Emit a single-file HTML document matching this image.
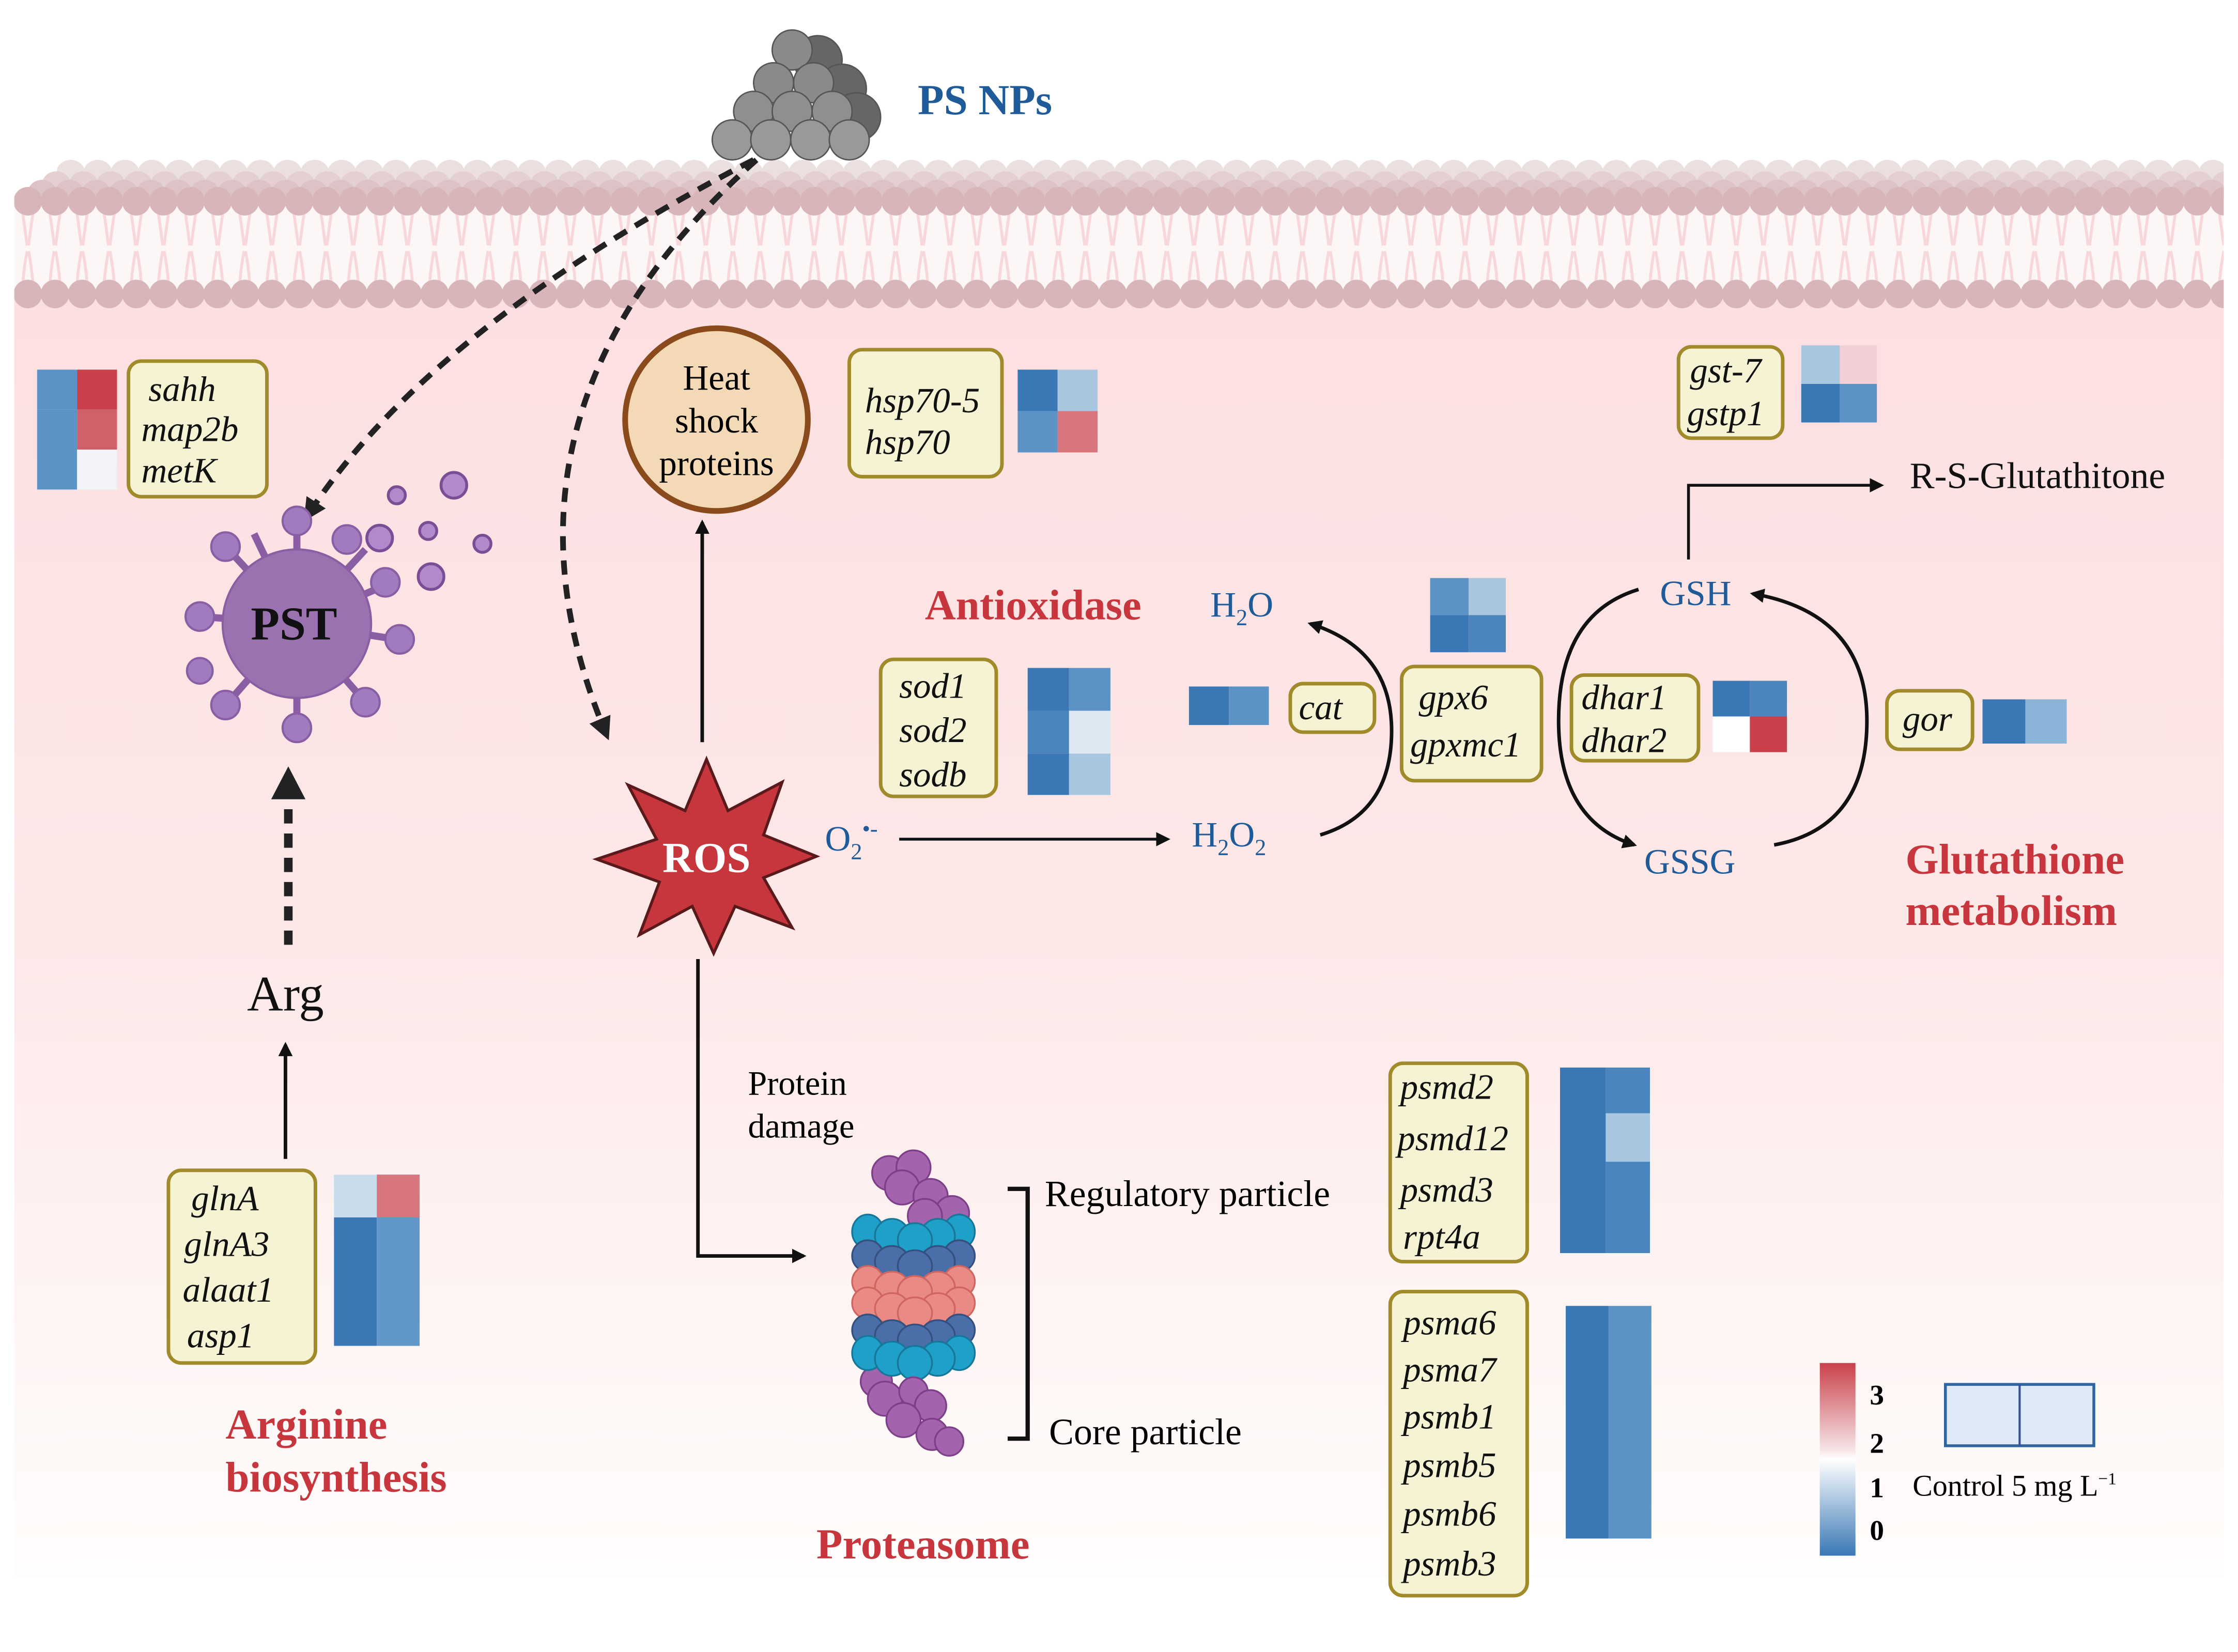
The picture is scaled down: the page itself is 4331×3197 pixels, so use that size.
<!DOCTYPE html>
<html><head><meta charset="utf-8"><style>
html,body{margin:0;padding:0;background:#fff}
svg{display:block}
text{font-family:"Liberation Serif",serif}
.g{font-style:italic;font-size:25px;fill:#111}
.red{fill:#c8363d;font-weight:bold;font-size:30px}
.blu{fill:#1f5a99;font-size:25px}
.box{fill:#f6f3d4;stroke:#a08a2a;stroke-width:2.5}
</style></head><body>
<svg width="4331" height="3197" viewBox="0 0 1568 1157.5" preserveAspectRatio="none" xmlns="http://www.w3.org/2000/svg">
<defs>
<linearGradient id="bg" x1="0" y1="0" x2="0" y2="1">
<stop offset="0" stop-color="#fcdfe1"/><stop offset="0.5" stop-color="#fde8e8"/><stop offset="1" stop-color="#fffdfc"/>
</linearGradient>
<linearGradient id="cb" x1="0" y1="0" x2="0" y2="1">
<stop offset="0" stop-color="#c9404a"/><stop offset="0.45" stop-color="#f6e4e6"/><stop offset="0.5" stop-color="#ffffff"/><stop offset="1" stop-color="#3a78b5"/>
</linearGradient>
<pattern id="h1" x="40" y="112" width="19" height="18" patternUnits="userSpaceOnUse"><ellipse cx="9.5" cy="9" rx="10" ry="9" fill="#ecdfe0"/></pattern>
<pattern id="h2" x="30" y="120" width="19" height="18" patternUnits="userSpaceOnUse"><ellipse cx="9.5" cy="9" rx="10" ry="9" fill="#e4cfd1"/></pattern>
<pattern id="h3" x="20" y="126" width="19" height="18" patternUnits="userSpaceOnUse"><ellipse cx="9.5" cy="9" rx="10" ry="9" fill="#ddc3c6"/></pattern>
<pattern id="h4" x="10" y="131" width="19" height="20" patternUnits="userSpaceOnUse"><circle cx="9.5" cy="10" r="10" fill="#d7b5b8"/></pattern>
<pattern id="h5" x="10" y="196" width="19" height="20" patternUnits="userSpaceOnUse"><circle cx="9.5" cy="10" r="10" fill="#d7b5b8"/></pattern>
<pattern id="tails" x="10" y="150" width="19" height="48" patternUnits="userSpaceOnUse">
<path d="M6 0 Q8 14 9 22 M13 0 Q11 14 10 22 M9 26 Q7 36 6 48 M10 26 Q12 36 13 48" stroke="#f7d7d9" stroke-width="2" fill="none"/>
</pattern>
<marker id="ah" markerWidth="10" markerHeight="10" refX="8" refY="5" orient="auto" markerUnits="userSpaceOnUse"><path d="M0 0 L10 5 L0 10 Z" fill="#111"/></marker>
<marker id="ahb" markerWidth="16" markerHeight="16" refX="12" refY="8" orient="auto" markerUnits="userSpaceOnUse"><path d="M0 0 L16 8 L0 16 Z" fill="#222"/></marker>
</defs>
<rect x="0" y="0" width="1568" height="1158" fill="#fff"/>
<rect x="10" y="205" width="1548" height="900" fill="url(#bg)"/>
<!-- membrane -->
<rect x="10" y="145" width="1548" height="60" fill="#fcf6f6"/>
<rect x="10" y="150" width="1548" height="48" fill="url(#tails)"/>
<rect x="40" y="112" width="1518" height="18" fill="url(#h1)"/>
<rect x="30" y="120" width="1528" height="18" fill="url(#h2)"/>
<rect x="20" y="126" width="1538" height="18" fill="url(#h3)"/>
<rect x="10" y="131" width="1548" height="20" fill="url(#h4)"/>
<rect x="10" y="196" width="1548" height="20" fill="url(#h5)"/>
<!-- PS NPs -->
<g stroke="#555" stroke-width="1">
<circle cx="573" cy="42" r="17" fill="#666"/><circle cx="590" cy="62" r="17" fill="#666"/><circle cx="600" cy="82" r="17" fill="#666"/>
<circle cx="555" cy="35" r="14" fill="#8a8a8a"/>
<circle cx="542" cy="58" r="14" fill="#8a8a8a"/><circle cx="570" cy="58" r="14" fill="#8a8a8a"/>
<circle cx="528" cy="78" r="14" fill="#8f8f8f"/><circle cx="555" cy="78" r="14" fill="#8f8f8f"/><circle cx="583" cy="78" r="14" fill="#8f8f8f"/>
<circle cx="513" cy="98" r="14" fill="#999"/><circle cx="540" cy="98" r="14" fill="#999"/><circle cx="568" cy="98" r="14" fill="#999"/><circle cx="595" cy="98" r="14" fill="#999"/>
</g>
<text x="643" y="80" style="font-size:30px;font-weight:bold;fill:#1f5a99">PS NPs</text>
<!-- dashed arrows -->
<path d="M528 112 Q300 230 215 362" stroke="#222" stroke-width="4" stroke-dasharray="10,7" fill="none" marker-end="url(#ahb)"/>
<path d="M530 112 Q330 290 425 515" stroke="#222" stroke-width="4" stroke-dasharray="10,7" fill="none" marker-end="url(#ahb)"/>
<!-- sahh -->
<rect x="26" y="259" width="28" height="28" fill="#5b93c6"/><rect x="54" y="259" width="28" height="28" fill="#c9404a"/>
<rect x="26" y="287" width="28" height="28" fill="#5b93c6"/><rect x="54" y="287" width="28" height="28" fill="#d0616b"/>
<rect x="26" y="315" width="28" height="28" fill="#5b93c6"/><rect x="54" y="315" width="28" height="28" fill="#f1f3f6"/>
<rect class="box" x="90" y="253" width="97" height="95" rx="9"/>
<text class="g" x="104" y="281">sahh</text><text class="g" x="99" y="309">map2b</text><text class="g" x="99" y="338">metK</text>
<!-- PST virus -->
<g stroke="#8a5ea3" stroke-width="5" fill="#a07bbd">
<line x1="208" y1="437" x2="208" y2="370"/><line x1="208" y1="437" x2="208" y2="510"/>
<line x1="208" y1="437" x2="140" y2="432"/><line x1="208" y1="437" x2="278" y2="448"/>
<line x1="208" y1="437" x2="160" y2="385"/><line x1="208" y1="437" x2="256" y2="385"/>
<line x1="208" y1="437" x2="160" y2="492"/><line x1="208" y1="437" x2="256" y2="492"/>
<line x1="208" y1="437" x2="178" y2="374"/><line x1="208" y1="437" x2="270" y2="410"/>
</g>
<g fill="#a07bbd" stroke="#8a5ea3" stroke-width="1.5">
<circle cx="208" cy="365" r="10"/><circle cx="208" cy="510" r="10"/><circle cx="140" cy="432" r="10"/><circle cx="280" cy="448" r="10"/>
<circle cx="158" cy="383" r="10"/><circle cx="243" cy="378" r="10"/><circle cx="158" cy="494" r="10"/><circle cx="256" cy="492" r="10"/><circle cx="270" cy="408" r="10"/><circle cx="140" cy="470" r="9"/>
<circle cx="208" cy="437" r="52" fill="#9b72b0"/>
</g>
<text x="206" y="448" text-anchor="middle" style="font-size:33px;font-weight:bold;fill:#111">PST</text>
<g fill="#b08acb" stroke="#7a4d95" stroke-width="2">
<circle cx="318" cy="340" r="9"/><circle cx="278" cy="347" r="6"/><circle cx="266" cy="377" r="9"/><circle cx="300" cy="372" r="6"/><circle cx="338" cy="381" r="6"/><circle cx="302" cy="404" r="9"/>
</g>
<!-- Arg -->
<line x1="202" y1="662" x2="202" y2="560" stroke="#222" stroke-width="6" stroke-dasharray="10,7"/>
<path d="M190 560 L202 537 L214 560 Z" fill="#222"/>
<text x="200" y="708" text-anchor="middle" style="font-size:35px;fill:#111">Arg</text>
<line x1="200" y1="812" x2="200" y2="732" stroke="#111" stroke-width="2.5" marker-end="url(#ah)"/>
<rect class="box" x="118" y="820" width="103" height="135" rx="9"/>
<text class="g" x="134" y="848">glnA</text><text class="g" x="129" y="880">glnA3</text><text class="g" x="128" y="912">alaat1</text><text class="g" x="131" y="944">asp1</text>
<rect x="234" y="823" width="30" height="30" fill="#c8dcec"/><rect x="264" y="823" width="30" height="30" fill="#d9757c"/>
<rect x="234" y="853" width="30" height="90" fill="#3a78b5"/><rect x="264" y="853" width="30" height="90" fill="#6197c8"/>
<text class="red" x="158" y="1008">Arginine</text><text class="red" x="158" y="1045">biosynthesis</text>
<!-- Heat shock -->
<circle cx="502" cy="294" r="64" fill="#f3d9b5" stroke="#8b4a1c" stroke-width="4"/>
<text x="502" y="273" text-anchor="middle" style="font-size:25px">Heat</text>
<text x="502" y="303" text-anchor="middle" style="font-size:25px">shock</text>
<text x="502" y="333" text-anchor="middle" style="font-size:25px">proteins</text>
<rect class="box" x="595" y="245" width="107" height="89" rx="9"/>
<text class="g" x="606" y="289">hsp70-5</text><text class="g" x="606" y="318">hsp70</text>
<rect x="713" y="259" width="28" height="29" fill="#3a78b5"/><rect x="741" y="259" width="28" height="29" fill="#a8c6e0"/>
<rect x="713" y="288" width="28" height="29" fill="#5b93c6"/><rect x="741" y="288" width="28" height="29" fill="#d9757c"/>
<line x1="492" y1="520" x2="492" y2="366" stroke="#111" stroke-width="2.5" marker-end="url(#ah)"/>
<!-- ROS -->
<path d="M495 532 L510 568 L548 548 L535 585 L572 600 L535 615 L555 650 L515 635 L500 668 L485 635 L448 655 L462 618 L418 602 L460 588 L440 550 L480 568 Z" fill="#c8363d" stroke="#5a1a1c" stroke-width="2"/>
<text x="495" y="611" text-anchor="middle" style="font-size:30px;font-weight:bold;fill:#fff">ROS</text>
<!-- Antioxidase -->
<text class="red" x="648" y="434">Antioxidase</text>
<rect class="box" x="617" y="462" width="81" height="96" rx="9"/>
<text class="g" x="630" y="489">sod1</text><text class="g" x="630" y="520">sod2</text><text class="g" x="630" y="551">sodb</text>
<rect x="720" y="468" width="29" height="30" fill="#3a78b5"/><rect x="749" y="468" width="29" height="30" fill="#5b93c6"/>
<rect x="720" y="498" width="29" height="30" fill="#4a85be"/><rect x="749" y="498" width="29" height="30" fill="#dde8f2"/>
<rect x="720" y="528" width="29" height="29" fill="#3a78b5"/><rect x="749" y="528" width="29" height="29" fill="#a8c6e0"/>
<rect x="833" y="481" width="28" height="27" fill="#3a78b5"/><rect x="861" y="481" width="28" height="27" fill="#5b93c6"/>
<rect class="box" x="904" y="479" width="59" height="34" rx="9"/>
<text class="g" x="910" y="504">cat</text>
<text class="blu" x="578" y="596">O<tspan font-size="16" dy="6">2</tspan><tspan font-size="16" dy="-16">•-</tspan></text>
<line x1="630" y1="588" x2="818" y2="588" stroke="#111" stroke-width="2" marker-end="url(#ah)"/>
<text class="blu" x="835" y="593">H<tspan font-size="16" dy="6">2</tspan><tspan dy="-6">O</tspan><tspan font-size="16" dy="6">2</tspan></text>
<text class="blu" x="848" y="432">H<tspan font-size="16" dy="6">2</tspan><tspan dy="-6">O</tspan></text>
<path d="M925 585 Q975 570 975 512 Q975 455 918 437" stroke="#111" stroke-width="2.5" fill="none" marker-end="url(#ah)"/>
<!-- gpx -->
<rect x="1002" y="405" width="27" height="26" fill="#5b93c6"/><rect x="1029" y="405" width="26" height="26" fill="#a8c6e0"/>
<rect x="1002" y="431" width="27" height="26" fill="#3a78b5"/><rect x="1029" y="431" width="26" height="26" fill="#4a85be"/>
<rect class="box" x="982" y="467" width="98" height="80" rx="9"/>
<text class="g" x="994" y="497">gpx6</text><text class="g" x="988" y="530">gpxmc1</text>
<!-- GSH cycle -->
<text class="blu" x="1163" y="424">GSH</text>
<text class="blu" x="1152" y="612">GSSG</text>
<path d="M1148 413 Q1092 430 1092 505 Q1092 575 1145 592" stroke="#111" stroke-width="2.5" fill="none" marker-end="url(#ah)"/>
<path d="M1243 592 Q1308 580 1308 505 Q1308 430 1228 416" stroke="#111" stroke-width="2.5" fill="none" marker-end="url(#ah)"/>
<rect class="box" x="1101" y="473" width="89" height="60" rx="9"/>
<text class="g" x="1108" y="497">dhar1</text><text class="g" x="1108" y="527">dhar2</text>
<rect x="1200" y="477" width="26" height="25" fill="#3a78b5"/><rect x="1226" y="477" width="26" height="25" fill="#4a85be"/>
<rect x="1200" y="502" width="26" height="25" fill="#ffffff"/><rect x="1226" y="502" width="26" height="25" fill="#c9404a"/>
<rect class="box" x="1322" y="484" width="60" height="41" rx="9"/>
<text class="g" x="1333" y="512">gor</text>
<rect x="1389" y="490" width="30" height="31" fill="#3a78b5"/><rect x="1419" y="490" width="29" height="31" fill="#8cb3d8"/>
<rect class="box" x="1176" y="243" width="73" height="64" rx="9"/>
<text class="g" x="1184" y="268">gst-7</text><text class="g" x="1182" y="298">gstp1</text>
<rect x="1262" y="242" width="27" height="27" fill="#a8c6e0"/><rect x="1289" y="242" width="26" height="27" fill="#f0d0d4"/>
<rect x="1262" y="269" width="27" height="27" fill="#3a78b5"/><rect x="1289" y="269" width="26" height="27" fill="#5b93c6"/>
<path d="M1183 392 L1183 340 L1318 340" stroke="#111" stroke-width="2" fill="none" marker-end="url(#ah)"/>
<text x="1338" y="342" style="font-size:26px;fill:#111">R-S-Glutathitone</text>
<text class="red" x="1335" y="612">Glutathione</text><text class="red" x="1335" y="648">metabolism</text>
<!-- Proteasome path -->
<path d="M489 672 L489 880 L563 880" stroke="#111" stroke-width="2.5" fill="none" marker-end="url(#ah)"/>
<text x="524" y="767" style="font-size:24px">Protein</text><text x="524" y="797" style="font-size:24px">damage</text>
<g stroke-width="1.2">
<g fill="#a464ad" stroke="#7d3f88">
<circle cx="623" cy="822" r="12"/><circle cx="640" cy="818" r="12"/><circle cx="632" cy="832" r="12"/><circle cx="652" cy="838" r="12"/><circle cx="667" cy="850" r="12"/><circle cx="648" cy="852" r="12"/>
</g>
<g fill="#1fa0c8" stroke="#16779a"><ellipse cx="608" cy="863" rx="11" ry="12"/><ellipse cx="672" cy="863" rx="11" ry="12"/><ellipse cx="625" cy="866" rx="12" ry="12"/><ellipse cx="657" cy="866" rx="12" ry="12"/><ellipse cx="641" cy="869" rx="12" ry="12"/></g>
<g fill="#4a6ea8" stroke="#33507f"><ellipse cx="608" cy="880" rx="11" ry="11"/><ellipse cx="672" cy="880" rx="11" ry="11"/><ellipse cx="625" cy="884" rx="12" ry="11"/><ellipse cx="657" cy="884" rx="12" ry="11"/><ellipse cx="641" cy="887" rx="12" ry="11"/></g>
<g fill="#ea8a84" stroke="#d0655f"><ellipse cx="608" cy="898" rx="11" ry="11"/><ellipse cx="672" cy="898" rx="11" ry="11"/><ellipse cx="625" cy="902" rx="12" ry="11"/><ellipse cx="657" cy="902" rx="12" ry="11"/><ellipse cx="641" cy="905" rx="12" ry="11"/></g>
<g fill="#ea8a84" stroke="#d0655f"><ellipse cx="608" cy="913" rx="11" ry="11"/><ellipse cx="672" cy="913" rx="11" ry="11"/><ellipse cx="625" cy="917" rx="12" ry="11"/><ellipse cx="657" cy="917" rx="12" ry="11"/><ellipse cx="641" cy="920" rx="12" ry="11"/></g>
<g fill="#4a6ea8" stroke="#33507f"><ellipse cx="608" cy="932" rx="11" ry="11"/><ellipse cx="672" cy="932" rx="11" ry="11"/><ellipse cx="625" cy="936" rx="12" ry="11"/><ellipse cx="657" cy="936" rx="12" ry="11"/><ellipse cx="641" cy="939" rx="12" ry="11"/></g>
<g fill="#a464ad" stroke="#7d3f88"><circle cx="614" cy="968" r="11"/></g>
<g fill="#1fa0c8" stroke="#16779a"><ellipse cx="608" cy="948" rx="11" ry="12"/><ellipse cx="672" cy="948" rx="11" ry="12"/><ellipse cx="625" cy="952" rx="12" ry="12"/><ellipse cx="657" cy="952" rx="12" ry="12"/><ellipse cx="641" cy="955" rx="12" ry="12"/></g>
<g fill="#a464ad" stroke="#7d3f88">
<circle cx="620" cy="980" r="12"/><circle cx="640" cy="975" r="10"/><circle cx="652" cy="985" r="11"/><circle cx="633" cy="995" r="12"/><circle cx="653" cy="1005" r="11"/><circle cx="665" cy="1010" r="10"/>
</g>
</g>
<path d="M706 833 L720 833 L720 1008 L706 1008" stroke="#111" stroke-width="3" fill="none"/>
<text x="732" y="845" style="font-size:26px">Regulatory particle</text>
<text x="735" y="1012" style="font-size:26px">Core particle</text>
<text class="red" x="572" y="1092">Proteasome</text>
<!-- psmd -->
<rect class="box" x="974" y="745" width="96" height="139" rx="9"/>
<text class="g" x="981" y="770">psmd2</text><text class="g" x="979" y="806">psmd12</text><text class="g" x="981" y="842">psmd3</text><text class="g" x="983" y="875">rpt4a</text>
<rect x="1093" y="748" width="32" height="130" fill="#3a78b5"/><rect x="1125" y="748" width="31" height="130" fill="#4a85be"/>
<rect x="1125" y="780" width="31" height="34" fill="#a8c6e0"/>
<rect class="box" x="974" y="905" width="96" height="213" rx="9"/>
<text class="g" x="983" y="935">psma6</text><text class="g" x="983" y="968">psma7</text><text class="g" x="983" y="1001">psmb1</text><text class="g" x="983" y="1035">psmb5</text><text class="g" x="983" y="1069">psmb6</text><text class="g" x="983" y="1104">psmb3</text>
<rect x="1097" y="915" width="30" height="163" fill="#3a78b5"/><rect x="1127" y="915" width="30" height="163" fill="#5b93c6"/>
<!-- legend -->
<rect x="1275" y="955" width="25" height="135" fill="url(#cb)"/>
<text x="1310" y="984" style="font-size:20px;font-weight:bold">3</text>
<text x="1310" y="1018" style="font-size:20px;font-weight:bold">2</text>
<text x="1310" y="1049" style="font-size:20px;font-weight:bold">1</text>
<text x="1310" y="1079" style="font-size:20px;font-weight:bold">0</text>
<rect x="1363" y="970" width="104" height="43" fill="#deebf7" stroke="#2f65a0" stroke-width="2"/>
<line x1="1415" y1="970" x2="1415" y2="1013" stroke="#3a4fa0" stroke-width="1.5"/>
<text x="1340" y="1048" style="font-size:21px">Control 5 mg L<tspan font-size="12" dy="-8">−1</tspan></text>
</svg>
</body></html>
